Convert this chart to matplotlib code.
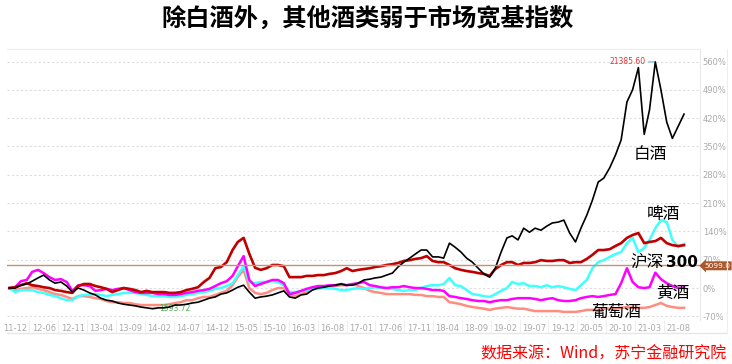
import numpy as np
import pandas as pd
import matplotlib
matplotlib.use("Agg")
import matplotlib.pyplot as plt
import matplotlib.transforms as mtransforms
from matplotlib.lines import Line2D

plt.rcParams['font.family'] = ['Noto Sans CJK SC', 'DejaVu Sans']

# monthly points, % change since start (Nov 2011)
dates = pd.date_range('2011-11-01', periods=119, freq='MS')

baijiu = [0, 0, 7, 10, 17, 25, 32, 20, 12, 15, 5,
          -10, 0, -5, -12, -17, -25, -30, -32, -37, -40,
          -42, -44, -47, -49, -51, -49, -49, -47, -42, -42,
          -40, -37, -35, -30, -25, -22, -15, -12, -5, 2,
          7, -10, -25, -22, -20, -17, -12, -7, -22, -25,
          -17, -15, -5, 0, 2, 5, 7, 10, 7, 7,
          12, 20, 22, 25, 27, 32, 37, 52, 64, 74,
          84, 94, 94, 77, 77, 74, 111, 101, 89, 74,
          64, 49, 35, 27, 49, 89, 124, 129, 119, 148,
          138, 148, 143, 153, 161, 163, 168, 136, 114, 148,
          180, 217, 262, 272, 297, 329, 366, 460, 490, 545,
          380, 440, 559, 490, 410, 370, 400, 430]

hs300 = [0, 2, 7, 12, 7, 5, 2, 0, -5, -7, -10,
         -12, 5, 10, 10, 5, 2, -2, -10, -5, 0,
         -2, -5, -10, -7, -10, -10, -10, -12, -12, -10,
         -5, -2, 2, 15, 25, 49, 52, 64, 94, 114,
         124, 85, 50, 45, 49, 57, 57, 54, 27, 27,
         27, 30, 30, 32, 32, 35, 37, 42, 49, 42,
         45, 47, 49, 52, 54, 57, 59, 62, 67, 69,
         72, 74, 79, 67, 64, 64, 57, 49, 45, 42,
         40, 37, 35, 30, 47, 57, 64, 64, 57, 62,
         62, 64, 69, 67, 67, 69, 69, 62, 64, 64,
         72, 82, 94, 94, 96, 104, 111, 124, 131, 136,
         111, 114, 116, 124, 111, 106, 104, 106]

pijiu = [0, -10, -5, -5, -5, -10, -12, -17, -20, -25, -30,
         -30, -20, -17, -17, -15, -17, -20, -17, -15, -12,
         -12, -12, -15, -17, -20, -20, -20, -22, -22, -20,
         -17, -15, -12, -10, -7, -2, 0, 5, 12, 32,
         54, 15, 12, 15, 15, 17, 15, 7, -10, -10,
         -7, -5, -2, -2, 0, 0, -2, -5, -5, -2,
         0, -2, 0, 2, 0, 0, -2, -5, -7, -5,
         -5, 0, 5, 7, 7, 10, 25, 7, 5, -5,
         -15, -17, -20, -22, -15, -7, 0, 15, 10, 12,
         5, 5, 2, 7, 2, 5, 2, -2, -5, 7,
         20, 49, 64, 69, 77, 84, 89, 111, 124, 89,
         99, 119, 148, 168, 163, 119, 101, 109]

huangjiu = [0, 2, 17, 20, 40, 45, 37, 27, 20, 22, 15,
            -7, 7, 7, 5, -7, -5, -2, -5, -2, 0,
            -5, -10, -12, -12, -12, -15, -15, -17, -17, -15,
            -12, -10, -7, -5, -2, 5, 12, 17, 30, 54,
            79, 20, 5, 10, 15, 20, 20, 12, -15, -12,
            -7, -2, 2, 5, 5, 7, 7, 10, 7, 10,
            12, 15, 7, 5, 2, 0, 2, 2, 5, 2,
            0, 0, -2, -5, -5, -7, -20, -22, -25, -27,
            -30, -32, -32, -35, -32, -30, -30, -27, -25, -25,
            -25, -27, -30, -27, -25, -30, -32, -32, -30, -25,
            -22, -20, -22, -20, -17, -15, 12, 49, 15, 2,
            0, 2, 38, 22, 12, 5, 0, 2]

putaojiu = [0, -5, -2, 0, 2, -2, -5, -10, -15, -17, -22,
            -27, -20, -20, -22, -25, -27, -32, -35, -35, -37,
            -37, -40, -42, -42, -42, -42, -42, -40, -37, -35,
            -30, -30, -25, -22, -22, -17, -12, -7, 7, 27,
            45, 0, -12, -15, -12, -5, 0, 0, -17, -20,
            -15, -10, -2, 0, 2, 5, 5, 7, 7, 10,
            5, 0, -7, -10, -12, -15, -15, -15, -15, -15,
            -17, -17, -20, -20, -22, -22, -35, -37, -40, -44,
            -47, -49, -51, -54, -51, -49, -47, -49, -51, -51,
            -54, -57, -57, -57, -57, -57, -59, -59, -59, -57,
            -54, -54, -54, -51, -51, -51, -49, -47, -49, -49,
            -49, -47, -42, -37, -44, -47, -49, -49]

tick_labels = ['11-12', '12-06', '12-11', '13-04', '13-09', '14-02', '14-07', '14-12',
               '15-05', '15-10', '16-03', '16-08', '17-01', '17-06', '17-11', '18-04',
               '18-09', '19-02', '19-07', '19-12', '20-05', '20-10', '21-03', '21-08']
yticks = [-70, 0, 70, 140, 210, 280, 350, 420, 490, 560]

max_label = '21385.60'
min_label = '1593.72'
ref_level = 57
ref_label = '5099.0'

fig = plt.figure(figsize=(7.32, 3.64), dpi=100)
ax = fig.add_axes([7 / 732, 1 - 320 / 364, 693 / 732, 271 / 364])

ax.plot(dates, putaojiu, color='#FF8C80', lw=1.8, zorder=2)
ax.plot(dates, pijiu, color='#40FFFF', lw=1.8, zorder=3)
ax.plot(dates, huangjiu, color='#FF00FF', lw=1.8, zorder=4)
ax.plot(dates, hs300, color='#C00000', lw=1.9, zorder=5)
ax.plot(dates, baijiu, color='black', lw=1.2, zorder=6)

ax.axhline(ref_level, color='#C9926E', lw=1, zorder=7)
blend = mtransforms.blended_transform_factory(ax.transAxes, ax.transData)
ax.text(1.006, ref_level - 2, ref_label, transform=blend, ha='left', va='center',
        color='white', fontsize=5.3, family='DejaVu Sans', zorder=12, clip_on=False,
        bbox=dict(boxstyle='larrow,pad=0.2', fc='#A8582C', ec='none'))

# max / min marks of the white-spirit index
imax = int(np.argmax(baijiu))
imin = int(np.argmin(baijiu))
ax.annotate(max_label, xy=(dates[imax], baijiu[imax]), xytext=(-7, 0),
            textcoords='offset points', ha='right', va='center', fontsize=5.5,
            color='#E83030', family='DejaVu Sans',
            arrowprops=dict(arrowstyle='-', color='#7EC8E3', lw=1, shrinkA=0, shrinkB=0))
ax.annotate(min_label, xy=(dates[imin], baijiu[imin]), xytext=(5, 0),
            textcoords='offset points', ha='left', va='center', fontsize=5.5,
            color='#4CAF50', family='DejaVu Sans',
            arrowprops=dict(arrowstyle='-', color='#7EC8E3', lw=1, shrinkA=0, shrinkB=0))

ax.set_xlim(pd.Timestamp('2011-10-19'), pd.Timestamp('2021-11-25'))
ax.set_ylim(-79, 591)

t0 = pd.Timestamp('2011-12-01').value
t1 = pd.Timestamp('2021-08-01').value
ticks = pd.to_datetime(np.linspace(t0, t1, len(tick_labels)))
ax.set_xticks(ticks)
ax.set_xticklabels(tick_labels)
mids = ticks[:-1] + (ticks[1:] - ticks[:-1]) / 2
ax.set_xticks(mids, minor=True)
ax.tick_params(axis='x', which='major', length=0, pad=3, labelsize=6, labelcolor='#AAAAAA')
ax.tick_params(axis='x', which='minor', length=8.5, color='#EEEEEE', width=0.8)

ax.yaxis.tick_right()
ax.set_yticks(yticks)
ax.set_yticklabels([f'{v}%' for v in yticks])
ax.tick_params(axis='y', length=0, pad=2, labelsize=6, labelcolor='#AAAAAA')
for lab in ax.get_xticklabels() + ax.get_yticklabels():
    lab.set_family('DejaVu Sans')

ax.grid(axis='y', linestyle=(0, (2, 2)), color='#DDDDDD', lw=0.8)
ax.set_axisbelow(True)
ax.spines['left'].set_visible(False)
ax.spines['bottom'].set_visible(False)
ax.spines['top'].set_color('#EEEEEE')
ax.spines['right'].set_color('#E8E8E8')
ax.spines['right'].set_linewidth(0.8)

fig.add_artist(Line2D([7 / 732, 727 / 732], [1 - 333 / 364] * 2, color='#E6E6E6', lw=1))
fig.add_artist(Line2D([727 / 732] * 2, [1 - 333 / 364, 1 - 49 / 364], color='#EEEEEE', lw=0.8))

lab_kw = dict(transform=ax.transAxes, ha='center', va='center', fontsize=12,
              color='black', zorder=10)
ax.text(0.928, 0.609, '白酒', **lab_kw)
ax.text(0.947, 0.391, '啤酒', **lab_kw)
ax.text(0.948, 0.210, '沪深', transform=ax.transAxes, ha='right', va='center',
        fontsize=12, zorder=10)
ax.text(0.951, 0.212, '300', transform=ax.transAxes, ha='left', va='center',
        fontsize=11, fontweight='bold', family='DejaVu Sans', zorder=10)
ax.text(0.960, 0.100, '黄酒', **lab_kw)
ax.text(0.880, 0.026, '葡萄酒', **lab_kw)

fig.text(0.502, 1 - 20 / 364, '除白酒外，其他酒类弱于市场宽基指数', ha='center', va='center',
         fontsize=17.5, fontweight='bold')
fig.text(727 / 732, 1 - 354 / 364, '数据来源：Wind，苏宁金融研究院', ha='right', va='center',
         fontsize=11.5, color='red')

fig.savefig('out.png', dpi=100)
